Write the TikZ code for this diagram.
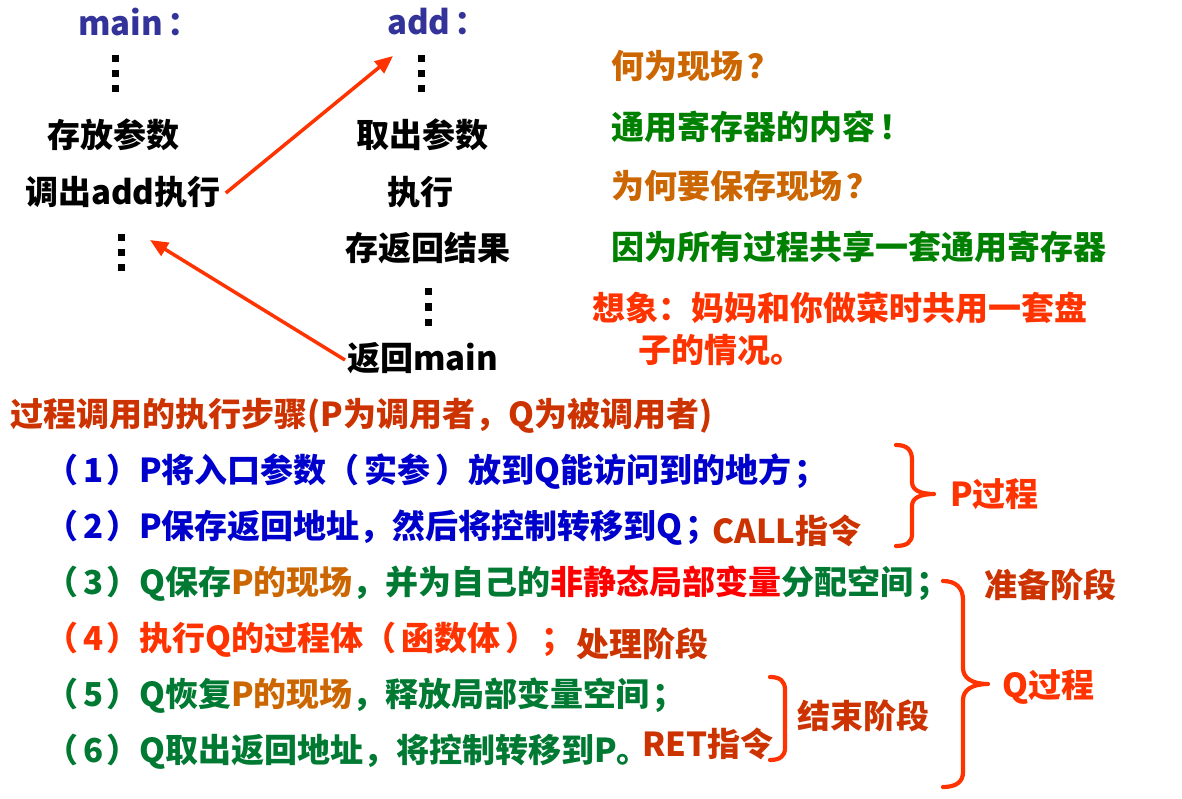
\documentclass[tikz,border=0pt]{standalone}
\usepackage{fontspec}
\setmainfont{Noto Sans CJK SC}
\usetikzlibrary{arrows.meta}
\definecolor{tblue}{HTML}{333399}
\definecolor{lblue}{HTML}{0000CC}
\definecolor{arrowred}{HTML}{FF3300}
\definecolor{ochre}{HTML}{CC6600}
\definecolor{tgreen}{HTML}{008000}
\definecolor{dgreen}{HTML}{007A33}
\definecolor{brred}{HTML}{CC3300}
\definecolor{pure}{HTML}{FF0000}
\newcommand{\stepnum}[1]{（\kern5pt#1\kern3pt）}
\newcommand{\lpar}{（\kern5pt}
\newcommand{\rpar}{\kern5pt）}
\tikzset{
  txt/.style={inner sep=0pt, font=\fontsize{33}{36}\selectfont\bfseries},
  redarrow/.style={draw=arrowred, line width=3.5pt, -{Triangle[length=18pt,width=15pt]}},
  bracestyle/.style={draw=arrowred, line width=4.2pt, line cap=round, line join=round},
  dotsq/.style={fill=black}
}
\begin{document}
\begin{tikzpicture}[x=1pt,y=-1pt]
\useasboundingbox[fill=white] (0,0) rectangle (1182,799);

% left column (main)
\node[txt, text=tblue, anchor=west] (mainlbl) at (78,22) {main\kern4pt：};
\node[txt, anchor=center] (cunfang) at (113,135) {存放参数};
\node[txt, anchor=west] (calladd) at (25,192) {调出add执行};
% right column (add)
\node[txt, text=tblue, anchor=west] (addlbl) at (387,22) {add\kern4pt：};
\node[txt, anchor=center] (quchu) at (422,135) {取出参数};
\node[txt, anchor=center] (zhixing) at (420,192) {执行};
\node[txt, anchor=center] (cunfanhui) at (428,248) {存返回结果};
\node[txt, anchor=west] (retmain) at (347,358) {返回main};

% vertical ellipsis dots
\foreach \yy in {59,74,89} {\fill[dotsq] (111.5,\yy-3.5) rectangle +(7,7);}
\foreach \yy in {238,253,268} {\fill[dotsq] (117.5,\yy-3.5) rectangle +(7,7);}
\foreach \yy in {59,74,89} {\fill[dotsq] (417.5,\yy-3.5) rectangle +(7,7);}
\foreach \yy in {292,307,322} {\fill[dotsq] (424.5,\yy-3.5) rectangle +(7,7);}

% arrows
\coordinate (addtip) at (393,56);
\coordinate (maintip) at (150,240);
\draw[redarrow] ([xshift=5pt,yshift=-1pt]calladd.east) -- (addtip);
\draw[redarrow] ([xshift=-2pt,yshift=-2pt]retmain.west) -- (maintip);

% right notes
\node[txt, text=ochre, anchor=west] (q1) at (611,66) {何为现场\kern4pt？};
\node[txt, text=tgreen, anchor=west] (a1) at (611,127) {通用寄存器的内容\kern4pt！};
\node[txt, text=ochre, anchor=west] (q2) at (611,186) {为何要保存现场\kern4pt？};
\node[txt, text=tgreen, anchor=west] (a2) at (611,247) {因为所有过程共享一套通用寄存器};
\node[txt, text=arrowred, anchor=west] (img1) at (592,308) {想象：妈妈和你做菜时共用一套盘};
\node[txt, text=arrowred, anchor=west] (img2) at (638,350) {子的情况。};

% steps
\node[txt, text=brred, anchor=west] (title) at (10,416) {过程调用的执行步骤(P为调用者，Q为被调用者)};
\node[txt, text=lblue, anchor=west] (s1) at (45,472) {\stepnum{1}P将入口参数\lpar 实参\rpar 放到Q能访问到的地方\kern3pt；};
\node[txt, text=lblue, anchor=west] (s2) at (45,528) {\stepnum{2}P保存返回地址，然后将控制转移到Q\kern3pt；};
\node[txt, text=brred, anchor=west] (call) at (712,531) {CALL指令};
\node[txt, text=dgreen, anchor=west] (s3) at (45,584) {\stepnum{3}Q保存\textcolor{ochre}{P的现场}，并为自己的\textcolor{pure}{非静态局部变量}分配空间\kern3pt；};
\node[txt, text=arrowred, anchor=west] (s4) at (45,640) {\stepnum{4}执行Q的过程体\lpar 函数体\rpar \kern3pt；};
\node[txt, text=brred, anchor=west] (chuli) at (576,644) {处理阶段};
\node[txt, text=dgreen, anchor=west] (s5) at (45,696) {\stepnum{5}Q恢复\textcolor{ochre}{P的现场}，释放局部变量空间\kern3pt；};
\node[txt, text=dgreen, anchor=west] (s6) at (45,752) {\stepnum{6}Q取出返回地址，将控制转移到P。};
\node[txt, text=brred, anchor=west] (ret) at (642,744) {RET指令};

% P brace
\draw[bracestyle] (896,445) .. controls (907,445) and (912,450) .. (912,460) -- (912,482)
  .. controls (912,490) and (920,494) .. (934,494)
  .. controls (920,494) and (912,498) .. (912,506) -- (912,534)
  .. controls (912,542) and (907,546) .. (896,546);
\node[txt, text=arrowred, anchor=west] (pproc) at (950,494) {P过程};

% Q brace
\draw[bracestyle] (943,581) .. controls (956,581) and (963,588) .. (963,600) -- (963,668)
  .. controls (963,678) and (972,684) .. (988,684)
  .. controls (972,684) and (963,690) .. (963,700) -- (963,772)
  .. controls (963,782) and (956,787) .. (943,787);
\node[txt, text=brred, anchor=west] (prep) at (984,585) {准备阶段};
\node[txt, text=arrowred, anchor=west] (qproc) at (1002,687) {Q过程};

% end-stage bracket
\draw[bracestyle] (770,677) .. controls (780,677) and (785,681) .. (785,690) -- (785,748)
  .. controls (785,756) and (780,760) .. (770,760);
\node[txt, text=brred, anchor=west] (endst) at (797,716) {结束阶段};
\end{tikzpicture}
\end{document}
